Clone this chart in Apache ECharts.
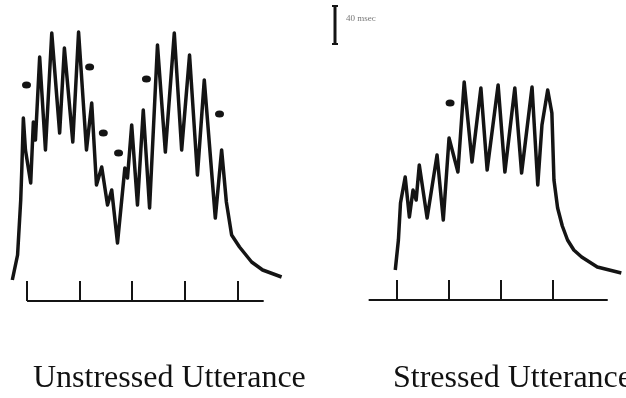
<!DOCTYPE html>
<html>
<head>
<meta charset="utf-8">
<script src="https://cdn.jsdelivr.net/npm/echarts@6/dist/echarts.min.js"></script>
<style>
  html, body { margin: 0; padding: 0; background: #fff; }
  #chart { width: 626px; height: 398px; }
</style>
</head>
<body>
<div id="chart"></div>
<script>
// time in tick units (one tick = one unit), amplitude in arbitrary units
const unstressedTicks = [0, 1, 2, 3, 4]
const stressedTicks = [0, 1, 2, 3]

const unstressedTime = [-0.28, -0.18, -0.12, -0.10, -0.07, -0.03, 0.07, 0.12, 0.16, 0.24, 0.35, 0.47, 0.62, 0.71, 0.87, 0.98, 1.13, 1.23, 1.32, 1.42, 1.53, 1.61, 1.72, 1.86, 1.91, 1.99, 2.10, 2.21, 2.33, 2.48, 2.63, 2.80, 2.94, 3.09, 3.24, 3.37, 3.58, 3.70, 3.79, 3.89, 4.04, 4.27, 4.48, 4.84]
const unstressedAmp = [21, 46, 101, 131, 183, 151, 118, 179, 161, 244, 151, 268, 168, 253, 159, 269, 151, 198, 116, 134, 96, 111, 58, 133, 123, 176, 96, 191, 93, 256, 149, 268, 151, 246, 126, 221, 83, 151, 99, 66, 54, 39, 31, 24]
const unstressedDotTime = [-0.01, 1.19, 1.45, 1.74, 2.27, 3.66]
const unstressedDotAmp = [216, 234, 168, 148, 222, 187]
const unstressedBase = [0, 4.5]

const stressedTime = [-0.02, 0.04, 0.08, 0.17, 0.25, 0.32, 0.38, 0.44, 0.59, 0.78, 0.90, 1.01, 1.07, 1.18, 1.30, 1.45, 1.62, 1.74, 1.95, 2.08, 2.27, 2.40, 2.60, 2.71, 2.79, 2.90, 2.98, 3.02, 3.09, 3.18, 3.28, 3.40, 3.55, 3.85, 4.31]
const stressedAmp = [30, 60, 97, 123, 83, 110, 100, 135, 82, 145, 80, 162, 150, 128, 218, 138, 212, 130, 215, 128, 212, 127, 213, 115, 175, 210, 187, 120, 92, 74, 60, 50, 43, 33, 27]
const stressedDotTime = [1.03]
const stressedDotAmp = [197]
const stressedBase = [-0.53, 4.05]

const titles = ['Unstressed Utterance', 'Stressed Utterance']
const scaleText = '40 msec'

const zip = (a, b) => a.map((v, i) => [v, b[i]])
const ink = '#141414'

function xAxisFor(gridIndex, min, max, ticks) {
  return {
    gridIndex: gridIndex,
    type: 'value',
    min: min,
    max: max,
    axisLine: { show: false },
    splitLine: { show: false },
    axisLabel: { show: false },
    axisTick: {
      show: true,
      inside: true,
      length: 20,
      customValues: ticks,
      lineStyle: { color: ink, width: 2 }
    }
  }
}

function yAxisFor(gridIndex) {
  return {
    gridIndex: gridIndex,
    type: 'value',
    min: 0,
    max: 270,
    show: false
  }
}

function waveSeries(idx, time, amp) {
  return {
    type: 'line',
    xAxisIndex: idx,
    yAxisIndex: idx,
    data: zip(time, amp),
    showSymbol: false,
    clip: false,
    lineStyle: { color: ink, width: 3.5, join: 'round' },
    silent: true
  }
}

function baseSeries(idx, base) {
  return {
    type: 'line',
    xAxisIndex: idx,
    yAxisIndex: idx,
    data: base.map(v => [v, 0]),
    showSymbol: false,
    clip: false,
    lineStyle: { color: ink, width: 2 },
    silent: true
  }
}

function dotSeries(idx, time, amp) {
  return {
    type: 'scatter',
    xAxisIndex: idx,
    yAxisIndex: idx,
    data: zip(time, amp),
    symbol: 'circle',
    symbolSize: [9, 7],
    itemStyle: { color: ink, opacity: 1 },
    silent: true
  }
}

const titleStyle = { fontFamily: 'Liberation Serif', fontSize: 32, fontWeight: 'normal', color: '#111' }

const option = {
  backgroundColor: '#fff',
  animation: false,
  title: [
    { text: titles[0], left: 33, top: 363, padding: 0, textStyle: titleStyle },
    { text: titles[1], left: 393, top: 363, padding: 0, textStyle: titleStyle }
  ],
  grid: [
    { left: 6, width: 284, top: 31, bottom: 97 },
    { left: 365, width: 262, top: 30, bottom: 98 }
  ],
  xAxis: [xAxisFor(0, -0.4, 5.0, unstressedTicks), xAxisFor(1, -0.6, 4.4, stressedTicks)],
  yAxis: [yAxisFor(0), yAxisFor(1)],
  series: [
    baseSeries(0, unstressedBase),
    waveSeries(0, unstressedTime, unstressedAmp),
    dotSeries(0, unstressedDotTime, unstressedDotAmp),
    baseSeries(1, stressedBase),
    waveSeries(1, stressedTime, stressedAmp),
    dotSeries(1, stressedDotTime, stressedDotAmp)
  ],
  // amplitude scale bar at the top
  graphic: [
    { type: 'line', shape: { x1: 335, y1: 6, x2: 335, y2: 44 }, style: { stroke: ink, lineWidth: 3 } },
    { type: 'line', shape: { x1: 332, y1: 6, x2: 338, y2: 6 }, style: { stroke: ink, lineWidth: 2 } },
    { type: 'line', shape: { x1: 332, y1: 44, x2: 338, y2: 44 }, style: { stroke: ink, lineWidth: 2 } },
    { type: 'text', x: 346, y: 19, style: { text: scaleText, fontSize: 9, fill: '#777', fontFamily: 'Liberation Serif', verticalAlign: 'middle' } }
  ]
}

const myChart = echarts.init(document.getElementById('chart'))
myChart.setOption(option)
window.onresize = myChart.resize
</script>
</body>
</html>
